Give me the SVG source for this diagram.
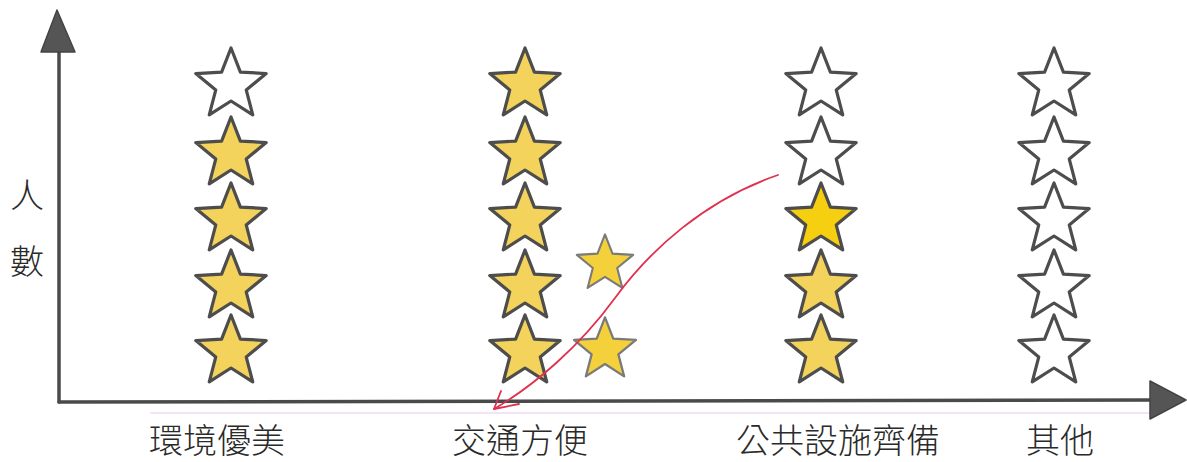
<svg xmlns="http://www.w3.org/2000/svg" width="1187" height="462" viewBox="0 0 1187 462">
<style>
.axis{stroke:#4a4a4a;stroke-width:3.5;fill:none;stroke-linecap:round}
.head{fill:#555;stroke:#444;stroke-width:1.5;stroke-linejoin:round}
.st{stroke:#4d4d4d;stroke-width:3.2;stroke-linejoin:round}
.empty{fill:#fff}
.fill{fill:#f3d35c}
.bright{fill:#f6cf10}
.extra{stroke:#7a7a7a;stroke-width:2.6;stroke-linejoin:round;fill:#f4d13a}
.lbl{font-family:"Noto Sans CJK TC","Noto Sans CJK SC",sans-serif;font-size:34px;fill:#2a2a2a;font-weight:300}
.red{stroke:#e0304e;stroke-width:1.8;fill:none;stroke-linecap:round;stroke-linejoin:round}
</style>
<defs>
<path id="star" d="M0,-37 L9.4,-12.94 L35.19,-11.43 L15.22,4.94 L21.75,29.93 L0,16 L-21.75,29.93 L-15.22,4.94 L-35.19,-11.43 L-9.4,-12.94 Z"/>
</defs>
<rect width="1187" height="462" fill="#fff"/>
<line x1="150" y1="413" x2="1150" y2="413" stroke="#e6c8ee" stroke-width="1.2"/>
<g id="axes">
<line class="axis" x1="59" y1="40" x2="59" y2="402"/>
<line class="axis" x1="59" y1="402" x2="1155" y2="400"/>
<polygon class="head" points="57,10 41,52 75,52"/>
<polygon class="head" points="1186,400 1150,381 1150,419"/>
</g>
<g id="y-label">
<text class="lbl" x="27" y="208" text-anchor="middle">人</text>
<text class="lbl" x="27" y="274" text-anchor="middle">數</text>
</g>
<g id="col-env">
<use href="#star" class="st empty" x="231" y="85"/>
<use href="#star" class="st fill" x="231" y="154"/>
<use href="#star" class="st fill" x="231" y="220"/>
<use href="#star" class="st fill" x="231" y="287"/>
<use href="#star" class="st fill" x="231" y="352"/>
<text class="lbl" x="217" y="453" text-anchor="middle">環境優美</text>
</g>
<g id="col-traffic">
<use href="#star" class="st fill" x="525" y="85"/>
<use href="#star" class="st fill" x="525" y="154"/>
<use href="#star" class="st fill" x="525" y="220"/>
<use href="#star" class="st fill" x="525" y="287"/>
<use href="#star" class="st fill" x="525" y="352"/>
<use href="#star" class="extra" transform="translate(605,264) scale(0.8)"/>
<use href="#star" class="extra" transform="translate(605,350) scale(0.88)"/>
<text class="lbl" x="520" y="453" text-anchor="middle">交通方便</text>
</g>
<g id="col-public">
<use href="#star" class="st empty" x="821" y="85"/>
<use href="#star" class="st empty" x="821" y="154"/>
<use href="#star" class="st bright" x="821" y="220"/>
<use href="#star" class="st fill" x="821" y="287"/>
<use href="#star" class="st fill" x="821" y="352"/>
<text class="lbl" x="838" y="453" text-anchor="middle">公共設施齊備</text>
</g>
<g id="col-other">
<use href="#star" class="st empty" x="1054" y="85"/>
<use href="#star" class="st empty" x="1054" y="154"/>
<use href="#star" class="st empty" x="1054" y="220"/>
<use href="#star" class="st empty" x="1054" y="287"/>
<use href="#star" class="st empty" x="1054" y="352"/>
<text class="lbl" x="1060" y="453" text-anchor="middle">其他</text>
</g>
<g id="connectors">
<path class="red" d="M778,175 C705,200 650,250 615,298 S535,385 494,409"/>
<path class="red" d="M501,391 L494,409 L519,404"/>
</g>
</svg>
